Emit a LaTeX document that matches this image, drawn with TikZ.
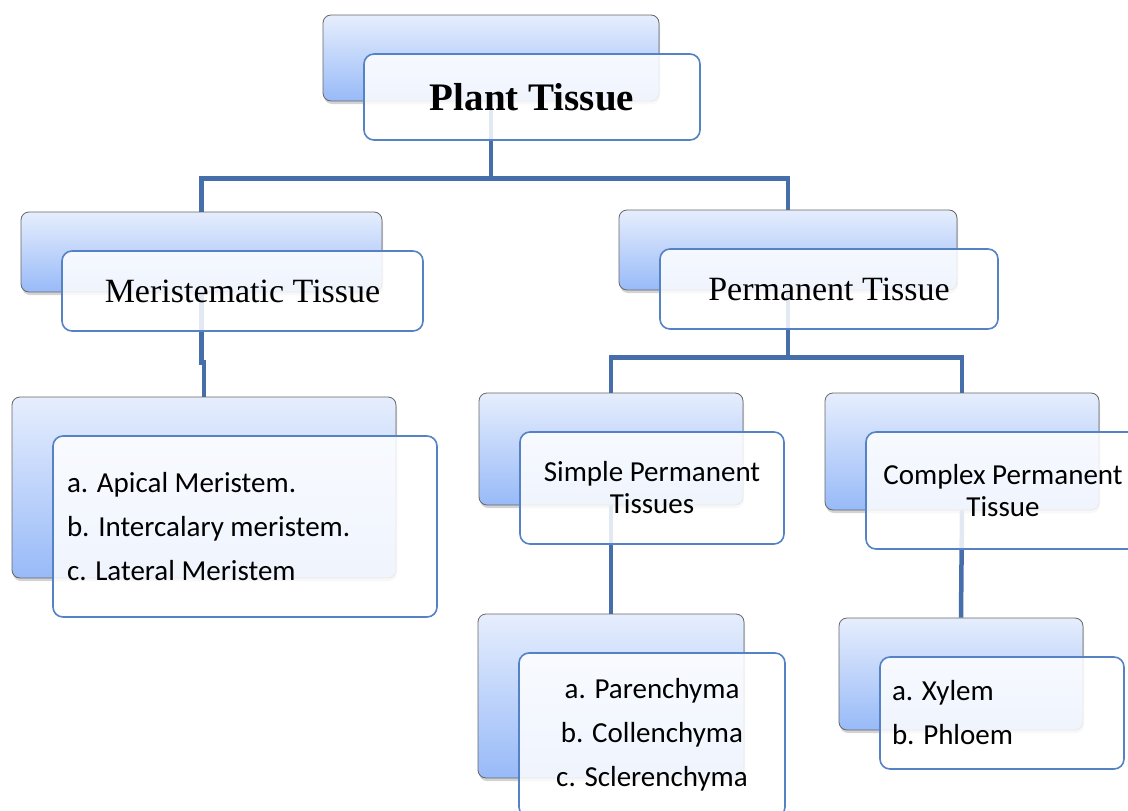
\documentclass[tikz,border=0pt]{standalone}
\usepackage{fontspec}
\setmainfont{Liberation Serif}
\newfontfamily\bodyfont{Carlito}
\usetikzlibrary{positioning,shadows}
\pgfdeclarelayer{bg}
\pgfsetlayers{bg,main}

\definecolor{linkblue}{RGB}{70,110,170}
\definecolor{edgeblue}{RGB}{84,130,196}
\definecolor{shadetop}{RGB}{230,238,253}
\definecolor{shadebot}{RGB}{152,186,248}

\begin{document}
\begin{tikzpicture}[x=1pt,y=-1pt,
    backbox/.style={rectangle, rounded corners=8pt, draw=black!60, line width=0.8pt, top color=shadetop, bottom color=shadebot, inner sep=0pt, drop shadow={shadow xshift=1pt, shadow yshift=-3pt, opacity=0.35}},
    frontbox/.style={rectangle, rounded corners=10pt, draw=edgeblue, line width=1.6pt, fill=white, fill opacity=0.85, text opacity=1, inner sep=0pt, xshift=41pt, yshift=-39pt},
    headtext/.style={font=\fontsize{34}{40}\selectfont},
    subtext/.style={font=\bodyfont\fontsize{29}{32}\selectfont, align=center},
    listtext/.style={font=\bodyfont\fontsize{29}{44}\selectfont},
    link/.style={draw=linkblue, line width=4.5pt},
]
\useasboundingbox (0,0) rectangle (1128,811);

%Back boxes
\node[backbox, minimum width=336pt, minimum height=86pt] (plantB) at (491,58) {};
\node[backbox, minimum width=361pt, minimum height=80pt] (merB) at (201.5,252) {};
\node[backbox, minimum width=338pt, minimum height=80pt] (permB) at (788,250) {};
\node[backbox, minimum width=384pt, minimum height=181pt] (apiB) at (204,487.5) {};
\node[backbox, minimum width=264pt, minimum height=112pt] (simpB) at (611,449) {};
\node[backbox, minimum width=274pt, minimum height=117pt] (compB) at (962,451.5) {};
\node[backbox, minimum width=266pt, minimum height=164pt] (parB) at (611,696) {};
\node[backbox, minimum width=244pt, minimum height=112pt] (xylB) at (961,674) {};

%Front boxes
\node[frontbox, minimum width=336pt, minimum height=86pt, font=\fontsize{39}{44}\selectfont\bfseries] (plant) at (plantB) {Plant Tissue};
\node[frontbox, headtext, minimum width=361pt, minimum height=80pt] (mer) at (merB) {Meristematic Tissue};
\node[frontbox, headtext, minimum width=338pt, minimum height=80pt] (perm) at (permB) {Permanent Tissue};
\node[frontbox, listtext, minimum height=181pt, inner xsep=14pt, text width=356pt, align=flush left] (api) at (apiB) {a. Apical Meristem.\\b. Intercalary meristem.\\c. Lateral Meristem};
\node[frontbox, subtext, minimum width=264pt, minimum height=112pt] (simp) at (simpB) {Simple Permanent\\Tissues};
\node[frontbox, subtext, minimum width=274pt, minimum height=117pt] (comp) at (compB) {Complex Permanent\\Tissue};
\node[frontbox, listtext, minimum width=266pt, minimum height=164pt, align=center] (par) at (parB) {a. Parenchyma\\b. Collenchyma\\c. Sclerenchyma};
\node[frontbox, listtext, minimum height=112pt, inner xsep=12pt, text width=220pt, align=flush left] (xyl) at (xylB) {a. Xylem\\b. Phloem};

%Lines
\begin{pgfonlayer}{bg}
\draw[link] (plantB.south) -- ++(0,77) -| (merB.north);
\draw[link] (plantB.south) -- ++(0,77) -| (permB.north);
\draw[link] (merB.south) -- ++(0,70) -| (apiB.north);
\draw[link] (permB.south) -- ++(0,67) -| (simpB.north);
\draw[link] (permB.south) -- ++(0,67) -| (compB.north);
\draw[link] (simpB.south) -- (parB.north);
\draw[link] (compB.south) -- (xylB.north);
\end{pgfonlayer}
\end{tikzpicture}
\end{document}
